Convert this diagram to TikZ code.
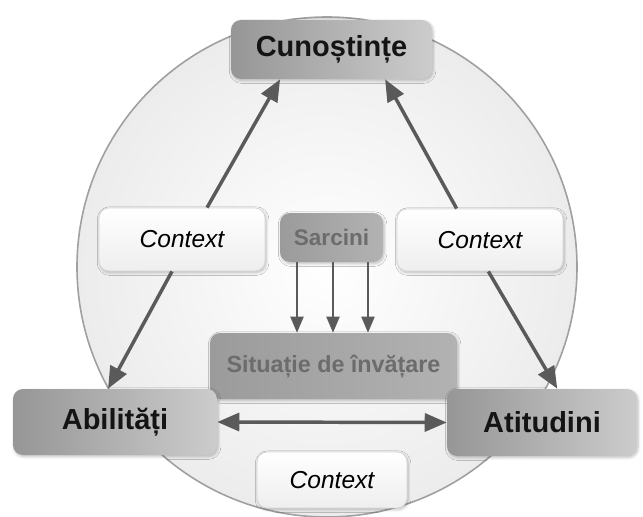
\documentclass[tikz,border=0pt]{standalone}
\usepackage{fontspec}
\setmainfont{Liberation Sans}
\usetikzlibrary{arrows.meta,calc,shadows.blur}
\definecolor{arrowgray}{RGB}{90,90,90}
\definecolor{boxdark}{RGB}{150,150,150}
\definecolor{boxlight}{RGB}{204,204,204}
\definecolor{midtext}{RGB}{108,108,108}
\definecolor{sitdark}{RGB}{155,155,155}
\definecolor{sitlight}{RGB}{178,178,178}
\definecolor{ctxlow}{RGB}{238,238,238}
\definecolor{ctxline}{RGB}{215,215,215}
\definecolor{circin}{RGB}{255,255,255}
\definecolor{circout}{RGB}{236,236,236}
\definecolor{circline}{RGB}{160,160,160}
\begin{document}
\begin{tikzpicture}[x=0.75pt,y=-0.75pt,
  box/.style={rounded corners=7.5pt, inner sep=0pt, align=center,
    blur shadow={shadow xshift=0.8pt,shadow yshift=-1.2pt,shadow blur steps=6,shadow opacity=25}},
  mainbox/.style={box, left color=boxdark, right color=boxlight,
    font=\fontsize{21.75pt}{26pt}\selectfont\bfseries, text=black!92},
  midbox/.style={box, left color=sitdark, right color=sitlight, text=midtext},
  ctxbox/.style={box, top color=white, bottom color=ctxlow, draw=ctxline, line width=0.6pt,
    font=\fontsize{18.4pt}{22pt}\selectfont\itshape},
  bigarrow/.style={draw=arrowgray, line width=2.6pt, -{Triangle[length=16.5pt,width=13.5pt]}},
  dblarrow/.style={draw=arrowgray, line width=2.6pt, {Triangle[length=16.5pt,width=13.5pt]}-{Triangle[length=16.5pt,width=13.5pt]}},
  smallarrow/.style={draw=arrowgray, line width=1.5pt, -{Triangle[length=12pt,width=9.75pt]}},
]
\useasboundingbox (0,0) rectangle (643,517);
% background circle
\path[shading=radial, inner color=circin, outer color=circout, draw=circline, line width=1.2pt]
  (327,267) circle[radius=187.5pt];
% nodes
\node[mainbox, minimum width=150.75pt, minimum height=44.25pt] (cun) at (331.5,49.5) {Cunoștințe};
\node[ctxbox, minimum width=124.5pt, minimum height=47.25pt] (ctxl) at (182,239.5) {Context};
\node[midbox, minimum width=77.25pt, minimum height=36.75pt,
  font=\fontsize{16.9pt}{20pt}\selectfont\bfseries] (sarc) at (331.5,237.5) {Sarcini};
\node[ctxbox, minimum width=124.5pt, minimum height=46.5pt] (ctxr) at (480,240) {Context};
\node[midbox, minimum width=185.25pt, minimum height=49.5pt,
  font=\fontsize{17.5pt}{21pt}\selectfont\bfseries] (sit) at (333.5,366) {Situație de învățare};
\node[mainbox, minimum width=153pt, minimum height=49.5pt] (abil) at (115,422) {Abilități};
\node[mainbox, minimum width=142.5pt, minimum height=50.25pt] (atit) at (542,422.5) {Atitudini};
\node[ctxbox, minimum width=112.5pt, minimum height=42pt] (ctxb) at (332,480) {Context};
% connectors
\draw[bigarrow] ($(ctxl.north west)!0.65!(ctxl.north east)$) -- ($(cun.south west)!0.245!(cun.south east)$);
\draw[bigarrow] ($(ctxl.south west)!0.44!(ctxl.south east)$) -- ($(abil.north west)!0.466!(abil.north east)$);
\draw[bigarrow] ($(ctxr.north west)!0.36!(ctxr.north east)$) -- ($(cun.south west)!0.766!(cun.south east)$);
\draw[bigarrow] ($(ctxr.south west)!0.55!(ctxr.south east)$) -- ($(atit.north west)!0.58!(atit.north east)$);
\draw[dblarrow] (abil.east) -- (atit.west);
\foreach \dx/\nm in {-34.5/sa, 1.5/sb, 36.5/sc}{
  \coordinate (\nm) at ($(sarc.south)+(\dx,0)$);
  \draw[smallarrow] (\nm) -- (\nm |- sit.north);
}
\end{tikzpicture}
\end{document}
